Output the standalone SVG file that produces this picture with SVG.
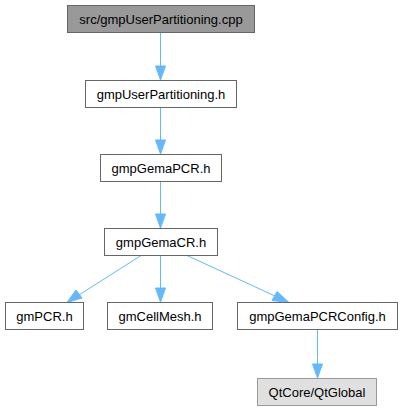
<svg xmlns="http://www.w3.org/2000/svg" width="402" height="411" viewBox="0 0 402 411">
<style>
.n rect{fill:#ffffff;stroke:#666666;stroke-width:1}
.n text{font-family:"Liberation Sans",Arial,sans-serif;font-size:13px;fill:#000000;text-anchor:middle}
#n1 rect{fill:#999999;stroke:#666666}
#n9 rect{fill:#e0e0e0;stroke:#999999}
.e path{fill:none;stroke:#63b8ff;stroke-width:1}
.e polygon{fill:#63b8ff;stroke:#63b8ff}
</style>
<rect width="402" height="411" fill="#ffffff"/>
<g class="e" id="edges">
<path d="M160.5,32.5 V67"/><polygon points="155.5,66 165.5,66 160.5,80"/>
<path d="M160.5,107.5 V141"/><polygon points="155.5,140 165.5,140 160.5,154"/>
<path d="M160.5,181.5 V215"/><polygon points="155.5,214 165.5,214 160.5,228"/>
<path d="M141,255.5 L79,295"/><polygon points="76,290 82,298 67,302.5"/>
<path d="M160.5,255.5 V289"/><polygon points="155.5,288 165.5,288 160.5,302"/>
<path d="M187,255.5 L275,296"/><polygon points="272,300.5 277,291.5 289,302.5"/>
<path d="M317.5,329.5 V365"/><polygon points="312.5,364 322.5,364 317.5,378"/>
</g>
<g class="n" id="n1"><rect x="67.5" y="5.5" width="187" height="27"/><text x="161" y="23.5">src/gmpUserPartitioning.cpp</text></g>
<g class="n" id="n2"><rect x="85.5" y="80.5" width="151" height="27"/><text x="161" y="98.5">gmpUserPartitioning.h</text></g>
<g class="n" id="n3"><rect x="100.5" y="154.5" width="121" height="27"/><text x="161" y="172.5">gmpGemaPCR.h</text></g>
<g class="n" id="n4"><rect x="104.5" y="228.5" width="113" height="27"/><text x="161" y="246.5">gmpGemaCR.h</text></g>
<g class="n" id="n5"><rect x="5.5" y="302.5" width="78" height="27"/><text x="44.5" y="320.5">gmPCR.h</text></g>
<g class="n" id="n6"><rect x="107.5" y="302.5" width="105" height="27"/><text x="160" y="320.5">gmCellMesh.h</text></g>
<g class="n" id="n7"><rect x="237.5" y="302.5" width="160" height="27"/><text x="317.5" y="320.5">gmpGemaPCRConfig.h</text></g>
<g class="n" id="n9"><rect x="257.5" y="378.5" width="119" height="27"/><text x="317" y="396.5">QtCore/QtGlobal</text></g>
</svg>
